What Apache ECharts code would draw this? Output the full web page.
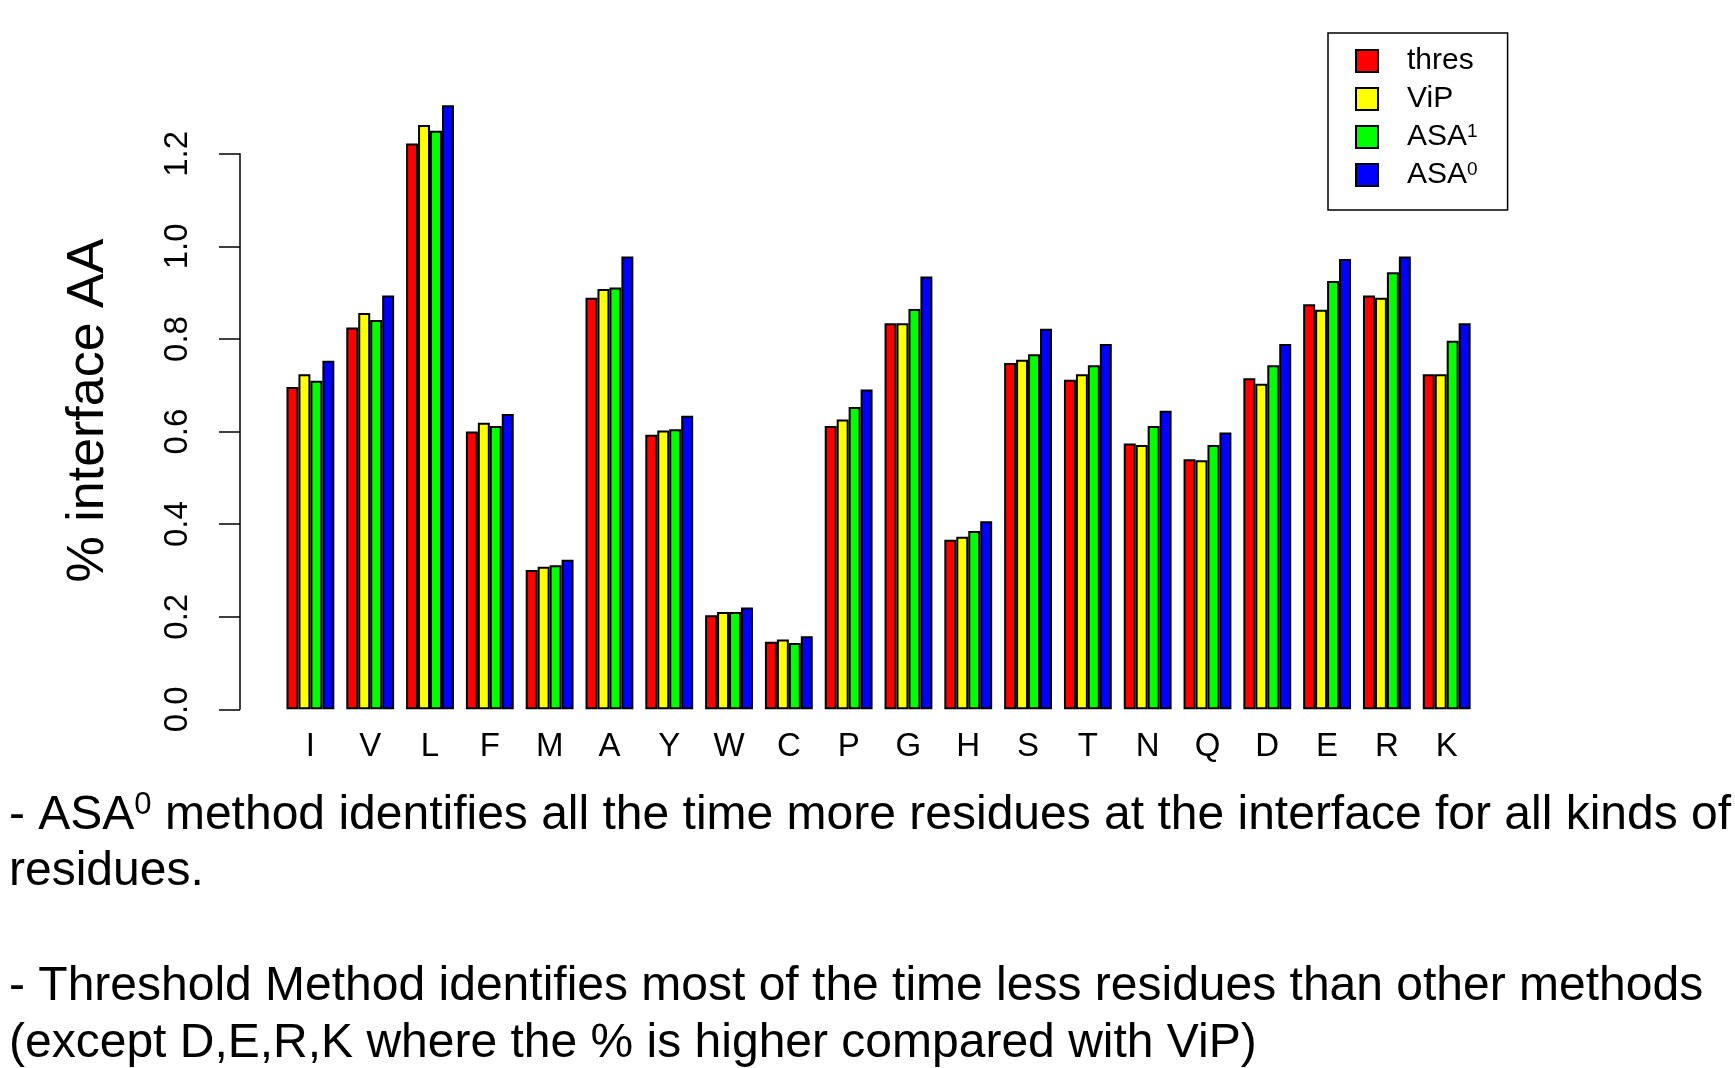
<!DOCTYPE html>
<html>
<head>
<meta charset="utf-8">
<script src="https://cdn.jsdelivr.net/npm/echarts@6/dist/echarts.min.js"></script>
<style>
html,body{margin:0;padding:0;background:#fff;}
#chart{width:1735px;height:1068px;}
</style>
</head>
<body>
<div id="chart"></div>
<script>
const categories = ['I','V','L','F','M','A','Y','W','C','P','G','H','S','T','N','Q','D','E','R','K'];
const seriesNames = ['thres','ViP','ASA1','ASA0'];
const thres = [0.696,0.825,1.222,0.600,0.301,0.889,0.593,0.203,0.146,0.612,0.834,0.366,0.748,0.712,0.574,0.540,0.715,0.875,0.894,0.724];
const vip   = [0.724,0.856,1.262,0.619,0.308,0.908,0.602,0.210,0.151,0.626,0.834,0.373,0.755,0.724,0.571,0.538,0.703,0.863,0.889,0.724];
const asa1  = [0.710,0.841,1.250,0.612,0.311,0.911,0.605,0.210,0.143,0.653,0.865,0.385,0.767,0.743,0.612,0.571,0.743,0.925,0.944,0.796];
const asa0  = [0.753,0.894,1.305,0.638,0.323,0.978,0.634,0.220,0.158,0.691,0.935,0.406,0.822,0.789,0.645,0.598,0.789,0.973,0.978,0.834];
const yTicks = [0.0,0.2,0.4,0.6,0.8,1.0,1.2];
const colors = ['#FF0000','#FFFF00','#00FF00','#0000FF'];
const yTitle = '% interface AA';
const noteLines = [
  '{n|- ASA}{s|0}{n| method identifies all the time more residues at the interface for all kinds of}',
  '{n|residues.}',
  '',
  '{n|- Threshold Method identifies most of the time less residues than other methods}',
  '{n|(except D,E,R,K where the % is higher compared with ViP)}'
];

const FF = 'Liberation Sans, Arial, Helvetica, sans-serif';
const values = [thres, vip, asa1, asa0];

const chart = echarts.init(document.getElementById('chart'), null, {renderer:'canvas'});

const series = seriesNames.map((name, i) => ({
  name: name,
  type: 'bar',
  data: values[i],
  clip: false,
  barGap: 0,
  barCategoryGap: '20%',
  itemStyle: { color: colors[i], borderColor: '#000', borderWidth: 2 },
  emphasis: { disabled: true },
  animation: false
}));

const noteGraphics = noteLines.map((t, i) => ({
  type: 'text',
  left: 9,
  top: 790 + i * 57.5,
  style: {
    text: t,
    rich: {
      n: { fontSize: 48, fontFamily: FF, fill: '#000', lineHeight: 52 },
      s: { fontSize: 31, fontFamily: FF, fill: '#000', verticalAlign: 'top' }
    }
  }
}));

chart.setOption({
  backgroundColor: '#fff',
  animation: false,
  grid: { left: 280.5, right: 258.4, top: 153.8, bottom: 358.7, containLabel: false },
  legend: {
    orient: 'vertical',
    left: 1328,
    top: 33,
    padding: [13, 30, 20, 27],
    borderColor: '#000',
    borderWidth: 1.5,
    itemWidth: 22,
    itemHeight: 22,
    itemGap: 8,
    icon: 'rect',
    selectedMode: false,
    data: seriesNames,
    formatter: function (name) {
      if (name === 'ASA1') return '{n|ASA}{s|1}';
      if (name === 'ASA0') return '{n|ASA}{s|0}';
      return '{n|' + name + '}';
    },
    textStyle: {
      fontFamily: FF,
      fontSize: 30,
      color: '#000',
      padding: [0, 0, 0, 24],
      rich: {
        n: { fontSize: 30, fontFamily: FF, color: '#000', lineHeight: 30 },
        s: { fontSize: 19, fontFamily: FF, color: '#000', verticalAlign: 'top' }
      }
    }
  },
  xAxis: {
    type: 'category',
    data: categories,
    axisLine: { show: false },
    axisTick: { show: false },
    axisLabel: { fontFamily: FF, fontSize: 33, color: '#000', margin: 21, interval: 0 }
  },
  yAxis: {
    type: 'value',
    min: 0,
    max: 1.2,
    interval: 0.2,
    offset: 40.5,
    splitLine: { show: false },
    axisLine: { show: true, lineStyle: { color: '#000', width: 1.5 } },
    axisTick: { show: true, inside: false, length: 21, lineStyle: { color: '#000', width: 1.5 } },
    axisLabel: {
      fontFamily: FF, fontSize: 33, color: '#000', rotate: 90, margin: 46,
      formatter: function (v) { return v.toFixed(1); }
    }
  },
  graphic: [
    {
      type: 'text',
      x: 88.5,
      y: 410.5,
      rotation: Math.PI / 2,
      style: {
        text: yTitle,
        fontSize: 52,
        fontFamily: FF,
        fill: '#000',
        align: 'center',
        verticalAlign: 'middle'
      }
    }
  ].concat(noteGraphics),
  series: series
});
</script>
</body>
</html>
